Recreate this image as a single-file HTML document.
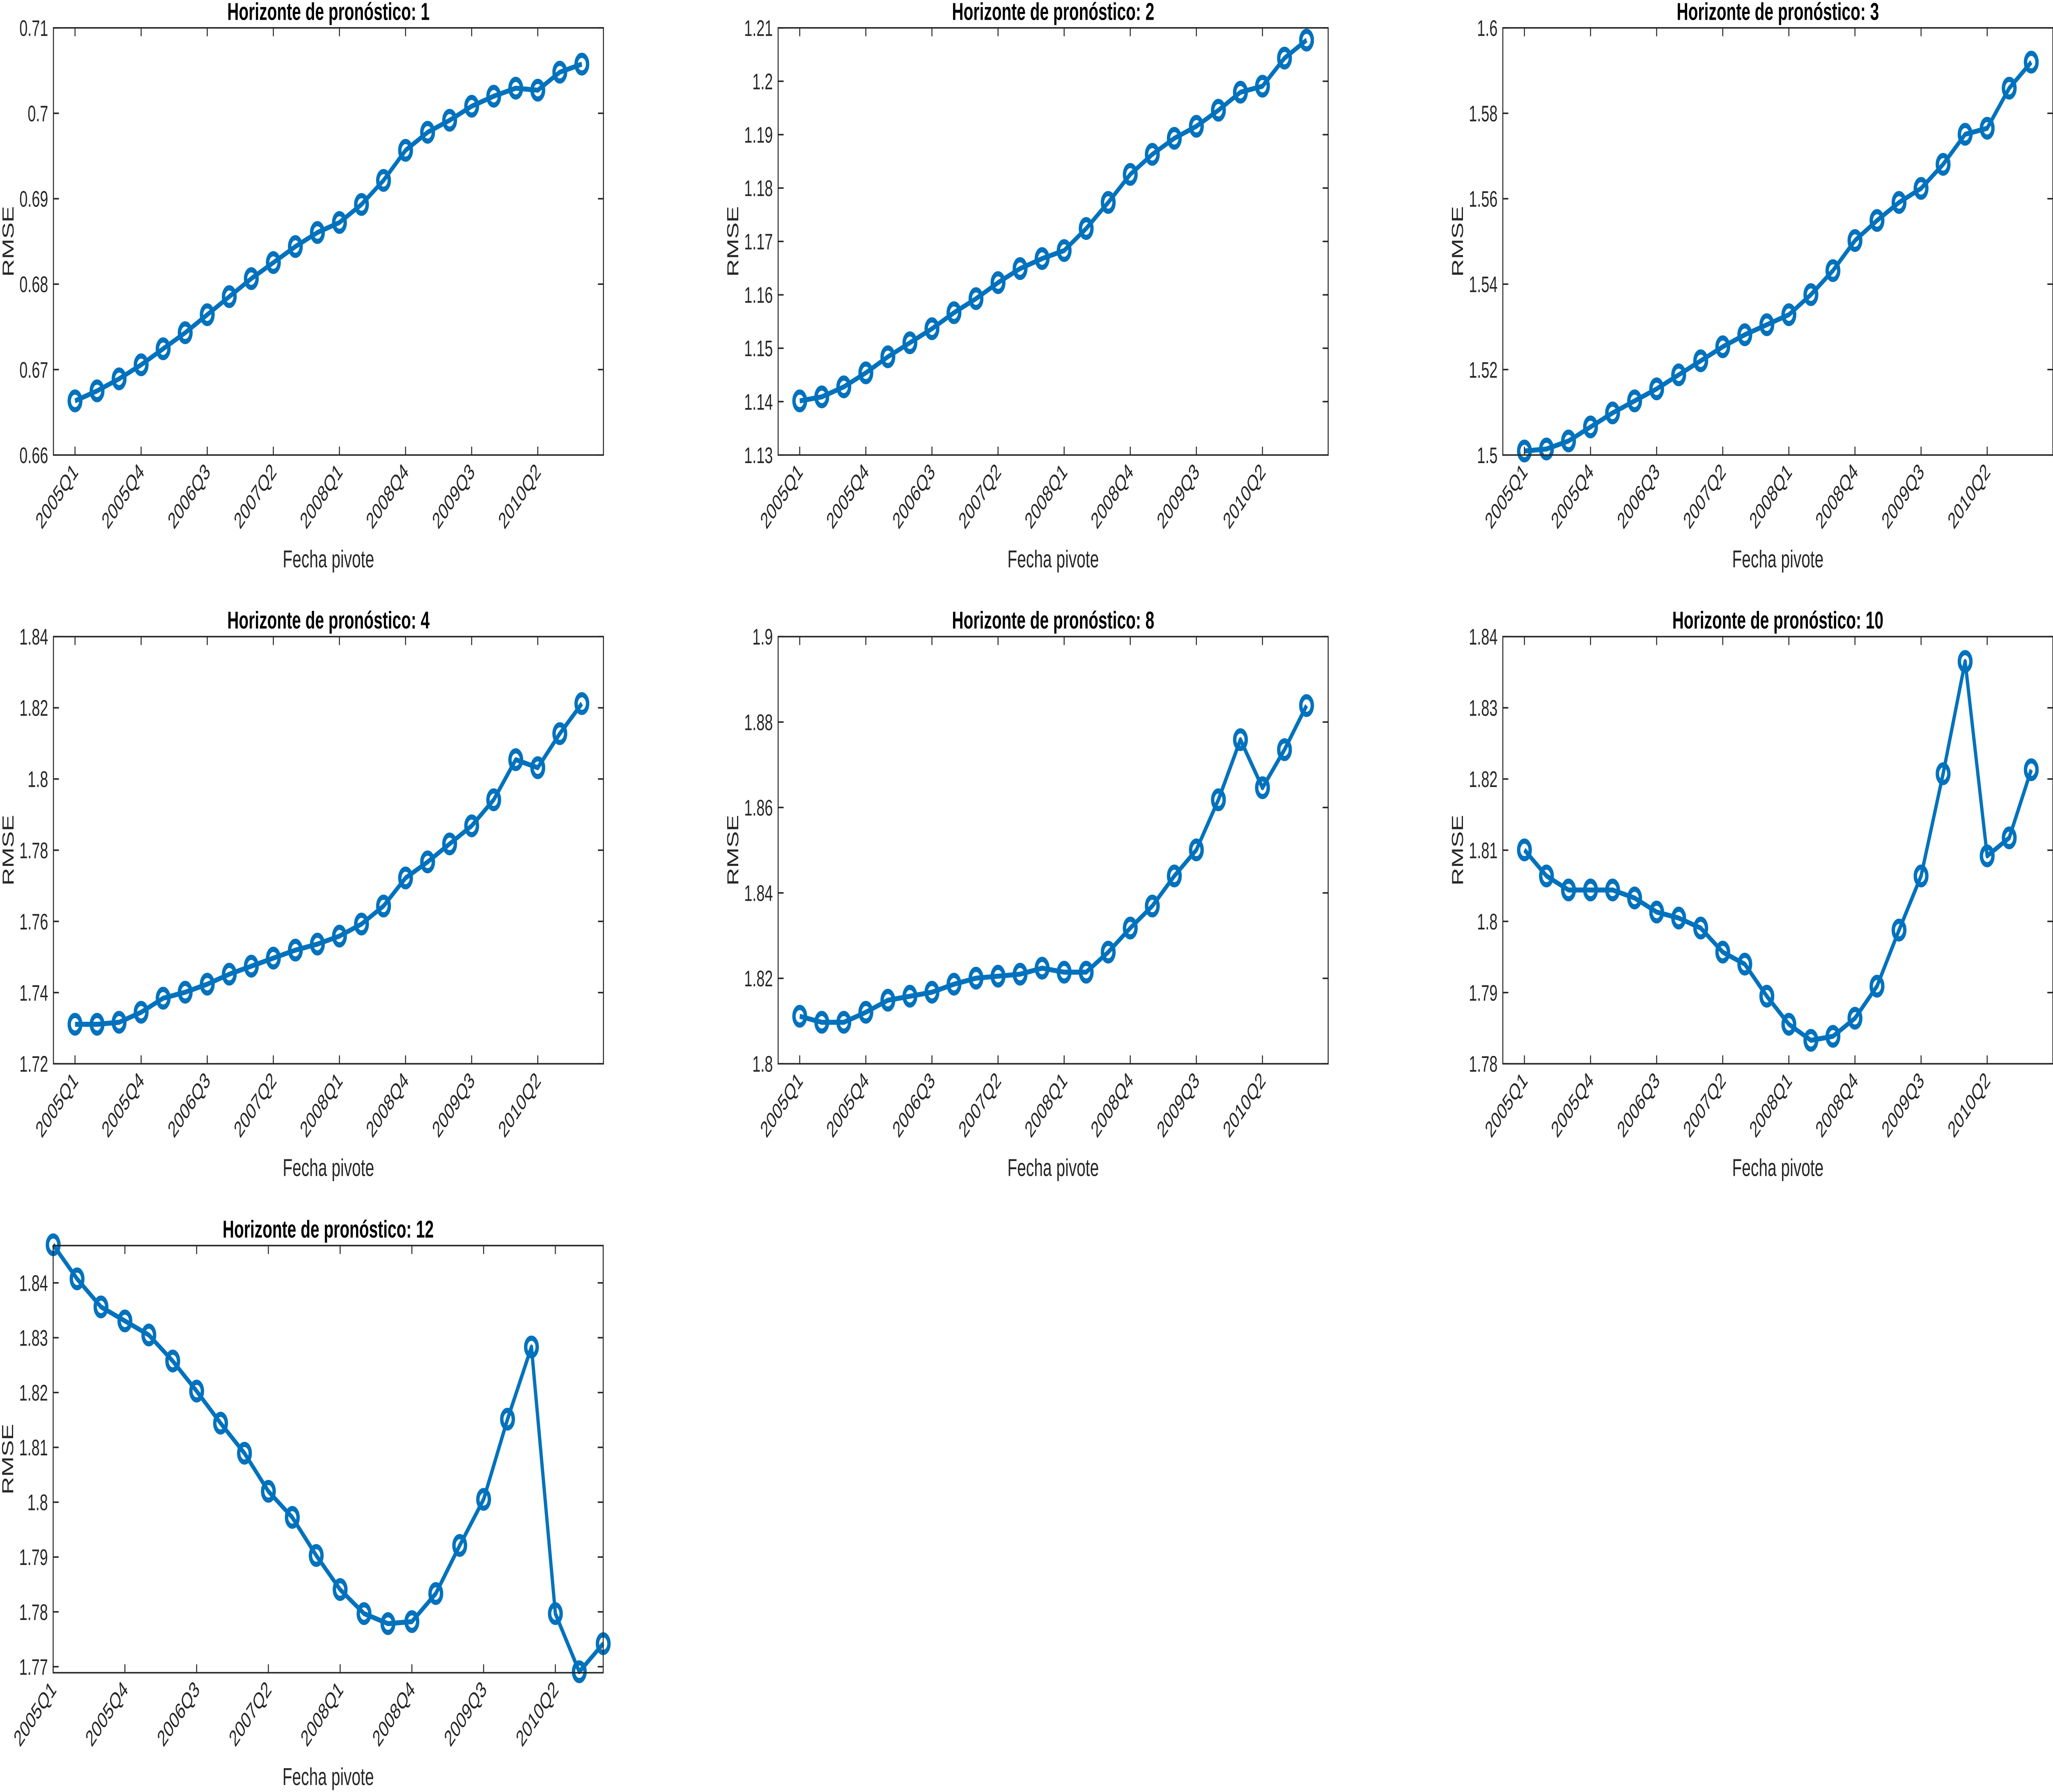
<!DOCTYPE html>
<html><head><meta charset="utf-8"><style>html,body{margin:0;padding:0;background:#fff;overflow:hidden;width:100%;height:100%}svg{display:block;width:100vw;height:100vh;position:absolute;left:0;top:0}</style></head>
<body>
<svg id="s" xmlns="http://www.w3.org/2000/svg" viewBox="0 0 1568 894" preserveAspectRatio="none" font-family="Liberation Sans, Arial, sans-serif"></svg>
<script>
const NS="http://www.w3.org/2000/svg";
const s=document.getElementById('s');
function el(t,a,txt){const e=document.createElementNS(NS,t);for(const k in a)e.setAttribute(k,a[k]);if(txt!==undefined)e.textContent=txt;s.appendChild(e);return e;}
const W=420.1,H=213.1;
const labs=["2005Q1","2005Q4","2006Q3","2007Q2","2008Q1","2008Q4","2009Q3","2010Q2"];
const panels=[
 {L:40.8,T:13.9,title:"1",y0:0.66,y1:0.71,ts:[0.66,0.67,0.68,0.69,0.7,0.71],
  py:[200,195,189,182,174,166,157,148,139,131,123,116,111,102,90,75,66,60,53,48,44,45,36,32]},
 {L:594.3,T:13.9,title:"2",y0:1.13,y1:1.21,ts:[1.13,1.14,1.15,1.16,1.17,1.18,1.19,1.2,1.21],
  py:[200,198,193,186,178,171,164,156,149,141,134,129,125,114,101,87,77,69,63,55,46,43,29,20]},
 {L:1147.8,T:13.9,title:"3",y0:1.5,y1:1.6,ts:[1.5,1.52,1.54,1.56,1.58,1.6],
  py:[225,224,220,213,206,200,194,187,180,173,167,162,157,147,135,120,110,101,94,82,67,64,44,31]},
 {L:40.8,T:317.6,title:"4",y0:1.72,y1:1.84,ts:[1.72,1.74,1.76,1.78,1.8,1.82,1.84],
  py:[511,511,510,505,498,495,491,486,482,478,474,471,467,461,452,438,430,421,412,399,379,383,366,351]},
 {L:594.3,T:317.6,title:"8",y0:1.8,y1:1.9,ts:[1.8,1.82,1.84,1.86,1.88,1.9],
  py:[507,510,510,505,499,497,495,491,488,487,486,483,485,485,475,463,452,437,424,399,369,393,374,352]},
 {L:1147.8,T:317.6,title:"10",y0:1.78,y1:1.84,ts:[1.78,1.79,1.8,1.81,1.82,1.83,1.84],
  py:[424,437,444,444,444,448,455,458,463,475,481,497,511,519,517,508,492,464,437,386,330,427,418,384]},
 {L:40.6,T:621.4,title:"12",y0:1.7689,y1:1.8468,ts:[1.77,1.78,1.79,1.8,1.81,1.82,1.83,1.84],tight:true,
  py:[621,638,652,659,666,679,694,710,725,744,757,776,793,805,810,809,795,771,748,708,672,805,834,820]}
];
const ax="#262626",blue="#0072BD";
panels.forEach(p=>{
 const L=p.L,T=p.T,B=T+H,R=L+W;
 const xf=p.tight?(i=>L+i*W/23):(i=>L+16.5+16.83*i);
 const yf=v=>B-(v-p.y0)/(p.y1-p.y0)*H;
 const pts=p.py.map((y,i)=>xf(i).toFixed(2)+","+y).join(" ");
 el('polyline',{points:pts,fill:"none",stroke:blue,"stroke-width":2.5,"stroke-linejoin":"round"});
 p.py.forEach((y,i)=>el('circle',{cx:xf(i),cy:y,r:4.4,fill:"none",stroke:blue,"stroke-width":2.6}));
 el('rect',{x:L,y:T,width:W,height:H,fill:"none",stroke:ax,"stroke-width":0.75});
 p.ts.forEach(v=>{const y=yf(v);
  el('line',{x1:L,y1:y,x2:L+4.2,y2:y,stroke:ax,"stroke-width":0.75});
  el('line',{x1:R,y1:y,x2:R-4.2,y2:y,stroke:ax,"stroke-width":0.75});
  el('text',{x:L-4,y:y+4,"text-anchor":"end","font-size":11.3,fill:ax},String(parseFloat(v.toFixed(2))));
 });
 labs.forEach((t,k)=>{const x=xf(3*k);
  el('line',{x1:x,y1:B,x2:x,y2:B-4.2,stroke:ax,"stroke-width":0.75});
  el('line',{x1:x,y1:T,x2:x,y2:T+4.2,stroke:ax,"stroke-width":0.75});
  const tx=x+3,ty=B+9;
  el('text',{x:tx,y:ty,"text-anchor":"end","font-size":11.3,fill:ax,transform:`rotate(-45 ${tx} ${ty})`},t);
 });
 el('text',{x:L+W/2,y:T-4,"text-anchor":"middle","font-size":12.2,"font-weight":"bold",fill:"#000"},"Horizonte de pronóstico: "+p.title);
 el('text',{x:L+W/2,y:B+56,"text-anchor":"middle","font-size":12.2,fill:ax},"Fecha pivote");
 const lx=L-30.5,ly=T+H/2;
 el('text',{x:lx,y:ly,"text-anchor":"middle","font-size":12.2,fill:ax,transform:`rotate(-90 ${lx} ${ly})`},"RMSE");
});
</script>
</body></html>
